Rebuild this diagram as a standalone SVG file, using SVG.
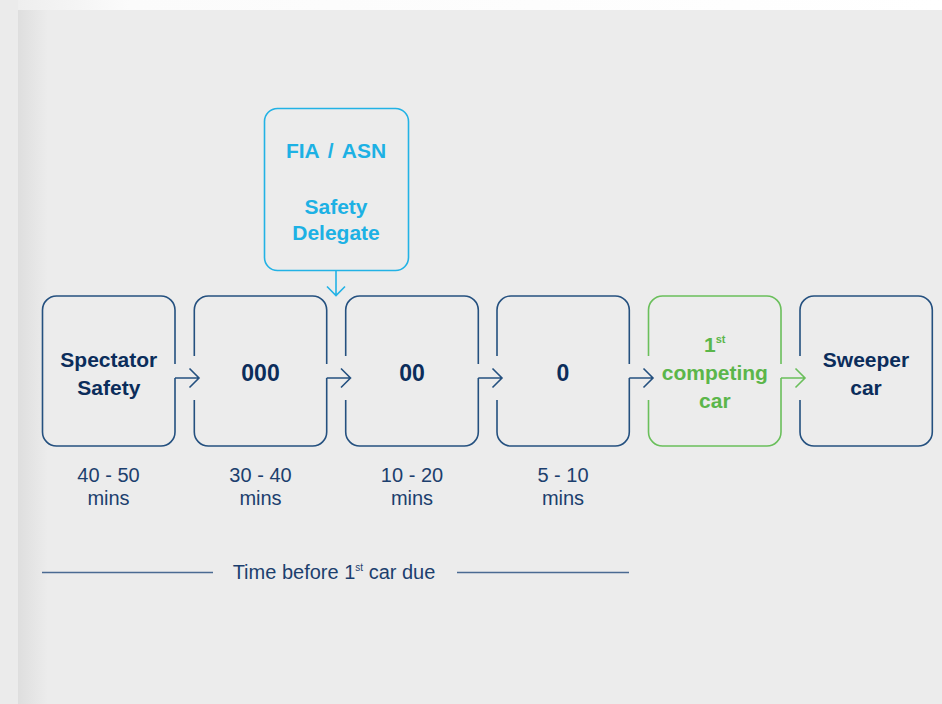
<svg xmlns="http://www.w3.org/2000/svg" width="942" height="704" viewBox="0 0 942 704">
  <defs>
    <linearGradient id="topg" x1="0" y1="0" x2="1" y2="0">
      <stop offset="0" stop-color="#eeeeee"/>
      <stop offset="0.12" stop-color="#fbfbfb"/>
      <stop offset="1" stop-color="#ffffff"/>
    </linearGradient>
    <linearGradient id="leftg" x1="0" y1="0" x2="1" y2="0">
      <stop offset="0" stop-color="#dedede"/>
      <stop offset="1" stop-color="#ececec"/>
    </linearGradient>
    <style>
      .box { fill: none; stroke: #24507f; stroke-width: 1.6; stroke-linecap: butt; }
      .green { stroke: #6abf5b; }
      .cyan { fill: none; stroke: #22b2e5; stroke-width: 1.6; }
      .arr { fill: none; stroke: #24507f; stroke-width: 1.6; stroke-linejoin: miter; }
      .arr.g { stroke: #6abf5b; }
      .arr.c { stroke: #22b2e5; }
      .t { font-family: "Liberation Sans", Arial, sans-serif; font-weight: bold; font-size: 21px; fill: #0b2d5b; text-anchor: middle; }
      .num { font-size: 23px; }
      .tg { fill: #5bb64a; }
      .tc { fill: #1db1e4; }
      .lab { font-family: "Liberation Sans", Arial, sans-serif; font-size: 20px; fill: #1c3f6e; text-anchor: middle; }
      .rule { stroke: #4a6a92; stroke-width: 1.6; }
    </style>
  </defs>

  <!-- background -->
  <rect x="0" y="0" width="942" height="704" fill="#ebebeb"/>
  <rect x="18" y="0" width="924" height="10" fill="url(#topg)"/>
  <rect x="18" y="10" width="924" height="694" fill="#ececec"/>
  <rect x="18" y="10" width="30" height="694" fill="url(#leftg)"/>

  <!-- FIA / ASN node -->
  <g id="fia">
    <rect class="cyan" x="264.5" y="108.5" width="144" height="162" rx="13"/>
    <text class="t tc" x="336" y="158" word-spacing="3">FIA / ASN</text>
    <text class="t tc" x="336" y="214">Safety</text>
    <text class="t tc" x="336" y="240">Delegate</text>
  </g>

  <!-- Spectator Safety -->
  <g id="spectator">
    <path class="box" d="M175,364 V310 A14,14 0 0 0 161,296 H56.5 A14,14 0 0 0 42.5,310 V432 A14,14 0 0 0 56.5,446 H161 A14,14 0 0 0 175,432 V378"/>
    <text class="t" x="108.8" y="367">Spectator</text>
    <text class="t" x="108.8" y="395">Safety</text>
  </g>

  <!-- 000 -->
  <g id="n000">
    <path class="box" d="M194.3,356 V310 A14,14 0 0 1 208.3,296 H312.7 A14,14 0 0 1 326.7,310 V364 M326.7,378 V432 A14,14 0 0 1 312.7,446 H208.3 A14,14 0 0 1 194.3,432 V400"/>
    <text class="t num" x="260.5" y="381">000</text>
  </g>

  <!-- 00 -->
  <g id="n00">
    <path class="box" d="M345.7,356 V310 A14,14 0 0 1 359.7,296 H464.3 A14,14 0 0 1 478.3,310 V364 M478.3,378 V432 A14,14 0 0 1 464.3,446 H359.7 A14,14 0 0 1 345.7,432 V400"/>
    <text class="t num" x="412" y="381">00</text>
  </g>

  <!-- 0 -->
  <g id="n0">
    <path class="box" d="M497,356 V310 A14,14 0 0 1 511,296 H615.3 A14,14 0 0 1 629.3,310 V364 M629.3,378 V432 A14,14 0 0 1 615.3,446 H511 A14,14 0 0 1 497,432 V400"/>
    <text class="t num" x="563" y="381">0</text>
  </g>

  <!-- 1st competing car -->
  <g id="first-car">
    <path class="box green" d="M648.5,356 V310 A14,14 0 0 1 662.5,296 H767 A14,14 0 0 1 781,310 V364 M781,378 V432 A14,14 0 0 1 767,446 H662.5 A14,14 0 0 1 648.5,432 V400"/>
    <text class="t tg" x="714.8" y="352">1<tspan font-size="11" dy="-9">st</tspan></text>
    <text class="t tg" x="714.8" y="380">competing</text>
    <text class="t tg" x="714.8" y="408">car</text>
  </g>

  <!-- Sweeper car -->
  <g id="sweeper">
    <path class="box" d="M800,356 V310 A14,14 0 0 1 814,296 H918.3 A14,14 0 0 1 932.3,310 V432 A14,14 0 0 1 918.3,446 H814 A14,14 0 0 1 800,432 V400"/>
    <text class="t" x="866" y="367">Sweeper</text>
    <text class="t" x="866" y="395">car</text>
  </g>

  <!-- connectors -->
  <g id="connectors">
    <path class="arr c" d="M336,270.5 V295 M327,286.5 L336,295.5 L345,286.5"/>
    <path class="arr" d="M175,378 H199 M189.5,368.5 L199,378 L189.5,387.5"/>
    <path class="arr" d="M326.7,378 H350.5 M341,368.5 L350.5,378 L341,387.5"/>
    <path class="arr" d="M478.3,378 H502 M492.5,368.5 L502,378 L492.5,387.5"/>
    <path class="arr" d="M629.3,378 H653 M643.5,368.5 L653,378 L643.5,387.5"/>
    <path class="arr g" d="M781,378 H805 M795.5,368.5 L805,378 L795.5,387.5"/>
  </g>

  <!-- time labels -->
  <g id="times">
    <text class="lab" x="108.5" y="482">40 - 50</text>
    <text class="lab" x="108.5" y="505" font-size="19">mins</text>
    <text class="lab" x="260.5" y="482">30 - 40</text>
    <text class="lab" x="260.5" y="505" font-size="19">mins</text>
    <text class="lab" x="412" y="482">10 - 20</text>
    <text class="lab" x="412" y="505" font-size="19">mins</text>
    <text class="lab" x="563" y="482">5 - 10</text>
    <text class="lab" x="563" y="505" font-size="19">mins</text>
  </g>

  <!-- axis caption -->
  <g id="axis">
    <line class="rule" x1="42" y1="572.5" x2="213" y2="572.5"/>
    <line class="rule" x1="457" y1="572.5" x2="629" y2="572.5"/>
    <text class="lab" x="334" y="579">Time before 1<tspan font-size="10" dy="-8">st</tspan><tspan dy="8"> car due</tspan></text>
  </g>
</svg>
